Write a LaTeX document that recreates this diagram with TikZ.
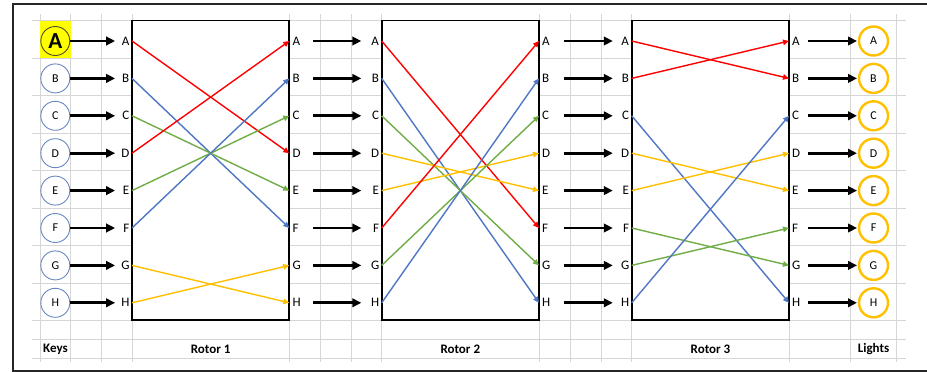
\documentclass[tikz,border=0pt]{standalone}
\usepackage{fontspec}
\setmainfont{Carlito}
\usetikzlibrary{arrows.meta}
\definecolor{wirered}{RGB}{255,0,0}
\definecolor{wireblue}{RGB}{79,119,196}
\definecolor{wiregreen}{RGB}{112,173,71}
\definecolor{wireyellow}{RGB}{255,192,0}
\definecolor{gridgray}{RGB}{214,214,214}
\definecolor{keyblue}{RGB}{105,135,190}
\definecolor{keyolive}{RGB}{80,80,30}
\definecolor{cellyellow}{RGB}{255,255,0}

\begin{document}
\begin{tikzpicture}[x=1pt,y=-1pt,
  keycirc/.style={circle,draw=keyblue,line width=0.9pt,minimum size=29pt,inner sep=0pt,font=\fontsize{12}{14}\selectfont},
  lightcirc/.style={circle,draw=wireyellow,line width=2.4pt,minimum size=29pt,inner sep=0pt,font=\fontsize{12}{14}\selectfont},
  inlabel/.style={anchor=east,inner sep=1pt,text width=8pt,align=right,font=\fontsize{13}{15}\selectfont},
  outlabel/.style={anchor=west,inner sep=1pt,text width=8pt,align=left,font=\fontsize{13}{15}\selectfont},
  feed/.style={line width=2.7pt,-{Triangle[length=9pt,width=8.5pt]}},
  wire/.style={line width=1.4pt,-{Triangle[length=6pt,width=5.5pt]}},
  rotorbox/.style={draw,line width=1.8pt,fill=white,inner sep=0pt,minimum width=157.3pt,minimum height=299.8pt},
  caption/.style={font=\fontsize{13}{15}\selectfont\bfseries}]
  \useasboundingbox (0,0) rectangle (927,372);

  % sheet grid
  \foreach \gx in {40,70.5,101.3,132,289.3,320.7,351.7,381.7,539,570,601,631.7,789.3,850,896.7}
    \draw[gridgray,line width=0.9pt] (\gx,14) -- (\gx,362);
  \foreach \gy in {20.7,58.2,95.7,133.2,170.7,208.2,245.7,283.2,320.5,339.3,358.3}
    \draw[gridgray,line width=0.9pt] (32,\gy) -- (906,\gy);
  \fill[cellyellow] (40,20.7) rectangle (70.7,58.3);

  % outer frame
  \draw[black!85,line width=2pt] (940,3.5) -- (12.5,3.5) -- (12.5,370.8) -- (940,370.8);

  % rotors
  \foreach \r/\xl in {1/132,2/381.7,3/631.7} {
    \node[rotorbox] (rotor\r) at (\xl+78.65,170.4) {};
    \foreach \l [count=\i, evaluate=\i as \y using {41+37.4*(\i-1)}] in {A,B,C,D,E,F,G,H} {
      \node[inlabel] (r\r in\i) at (\xl-1.5,\y) {\l};
      \node[outlabel] (r\r out\i) at (\xl+159.3,\y) {\l};
      \coordinate (r\r pinL\i) at (\xl,\y);
      \coordinate (r\r pinR\i) at (\xl+157.3,\y);
    }
  }

  % keys and lights
  \node[keycirc,draw=keyolive,font=\fontsize{23}{25}\selectfont\bfseries] (key1) at (55.3,41) {A};
  \foreach \l [count=\i from 2, evaluate=\i as \y using {41+37.4*(\i-1)}] in {B,C,D,E,F,G,H}
    \node[keycirc] (key\i) at (55.3,\y) {\l};
  \foreach \l [count=\i, evaluate=\i as \y using {41+37.4*(\i-1)}] in {A,B,C,D,E,F,G,H}
    \node[lightcirc] (light\i) at (873.5,\y) {\l};

  % straight feeds
  \foreach \i in {1,...,8} {
    \draw[feed,shorten >=5pt] (key\i) -- (r1in\i.west);
    \draw[feed,shorten <=11.4pt,shorten >=8.5pt] (r1out\i.east) -- (r2in\i.west);
    \draw[feed,shorten <=12.3pt,shorten >=7pt] (r2out\i.east) -- (r3in\i.west);
    \draw[feed,shorten <=6.4pt,shorten >=0.8pt] (r3out\i.east) -- (light\i);
  }

  % rotor wiring
  \foreach \a/\b/\c in {1/4/wirered,2/6/wireblue,3/5/wiregreen,4/1/wirered,5/3/wiregreen,6/2/wireblue,7/8/wireyellow,8/7/wireyellow}
    \draw[wire,\c] (r1pinL\a) -- (r1pinR\b);
  \foreach \a/\b/\c in {1/6/wirered,2/8/wireblue,3/7/wiregreen,4/5/wireyellow,5/4/wireyellow,6/1/wirered,7/3/wiregreen,8/2/wireblue}
    \draw[wire,\c] (r2pinL\a) -- (r2pinR\b);
  \foreach \a/\b/\c in {1/2/wirered,2/1/wirered,3/8/wireblue,4/5/wireyellow,5/4/wireyellow,6/7/wiregreen,7/6/wiregreen,8/3/wireblue}
    \draw[wire,\c] (r3pinL\a) -- (r3pinR\b);

  % captions
  \node[caption] (capkeys) at (55.5,349) {Keys};
  \node[caption] (caprot1) at (210.6,349) {Rotor 1};
  \node[caption] (caprot2) at (460.3,349) {Rotor 2};
  \node[caption] (caprot3) at (710.5,349) {Rotor 3};
  \node[caption] (caplights) at (873.5,349) {Lights};
\end{tikzpicture}
\end{document}
